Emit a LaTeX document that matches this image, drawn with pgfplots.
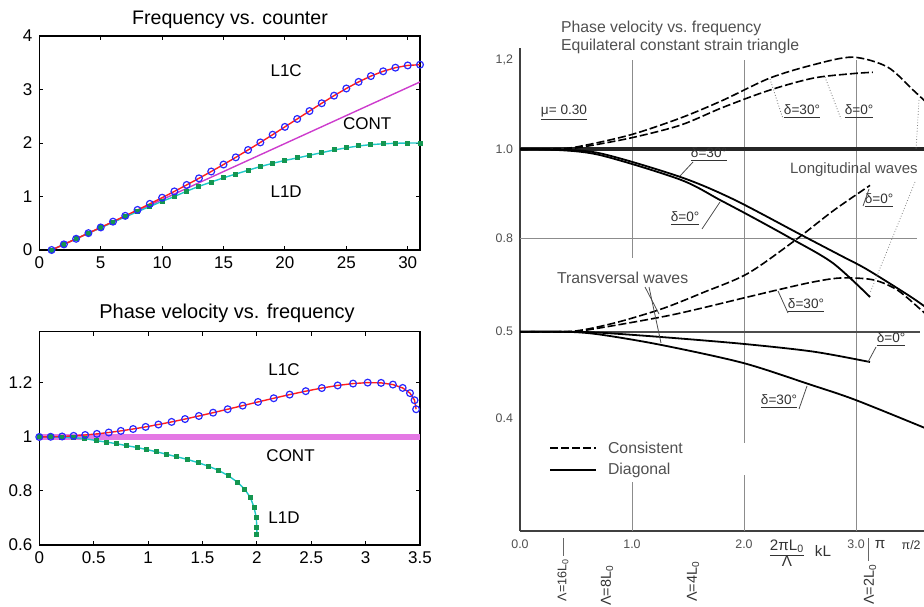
\documentclass[border=0pt]{standalone}
\usepackage{fontspec}
\setmainfont{Liberation Sans}
\usepackage{pgfplots}
\pgfplotsset{compat=1.18}

\definecolor{mblue}{RGB}{40,40,255}
\definecolor{mred}{RGB}{255,30,30}
\definecolor{mmag}{RGB}{205,60,205}
\definecolor{mmagl}{RGB}{228,120,228}
\definecolor{mgreen}{RGB}{20,150,80}
\definecolor{mcyan}{RGB}{30,200,200}
\definecolor{gtxt}{RGB}{80,80,80}
\definecolor{ggrid}{RGB}{140,140,140}

\newcommand\rs{\fontsize{6.8}{7.8}\selectfont}
\newcommand\rt{\fontsize{7.9}{9}\selectfont}

\begin{document}
\begin{tikzpicture}
\useasboundingbox (0,0) rectangle (462pt,303pt);
\clip (0,0) rectangle (462pt,303pt);

\pgfplotsset{
 matlab/.style={scale only axis, anchor=south west, width=190.35pt,
   axis line style={black, line width=0.6pt}, tick style={black, line width=0.5pt},
   major tick length=2pt, xtick pos=both, ytick pos=both,
   tick label style={font=\fontsize{8.5}{9}\selectfont},
   /pgf/number format/assume math mode=true},
 consist/.style={black, line width=0.8pt, dash pattern=on 4pt off 1.5pt, smooth, tension=0.5},
 diag/.style={black, line width=0.9pt, smooth, tension=0.5},
}

% ---------------- Top-left: Frequency vs. counter ----------------
\begin{axis}[matlab, at={(19.65pt,178pt)}, height=107pt,
  xmin=0, xmax=31, ymin=0, ymax=4, xtick={0,5,10,15,20,25,30}, ytick={0,1,2,3,4}]
\addplot[mmag, line width=0.7pt] coordinates {
 (1,0)(2,0.10472)(3,0.20944)(4,0.31416)(5,0.41888)(6,0.5236)(7,0.62832)(8,0.73304)(9,0.83776)(10,0.94248)
 (11,1.0472)(12,1.15192)(13,1.25664)(14,1.36136)(15,1.46608)(16,1.5708)(17,1.67552)(18,1.78024)(19,1.88496)(20,1.98968)
 (21,2.0944)(22,2.19911)(23,2.30383)(24,2.40855)(25,2.51327)(26,2.61799)(27,2.72271)(28,2.82743)(29,2.93215)(30,3.03687)(31,3.14159)};
\addplot[mcyan, line width=0.7pt, mark=square*, mark size=0.9pt, mark options={mgreen, solid}] coordinates {
 (1,0)(2,0.105)(3,0.21)(4,0.313)(5,0.416)(6,0.518)(7,0.618)(8,0.717)(9,0.813)(10,0.91)
 (11,1.0)(12,1.1)(13,1.19)(14,1.27)(15,1.35)(16,1.42)(17,1.49)(18,1.56)(19,1.62)(20,1.675)
 (21,1.72)(22,1.77)(23,1.82)(24,1.87)(25,1.91)(26,1.945)(27,1.97)(28,1.985)(29,1.995)(30,2.0)(31,2.0)};
\addplot[only marks, mark=o, mark size=1.7pt, mark options={mblue, line width=0.6pt}] coordinates {
 (1,0)(2,0.10479)(3,0.20981)(4,0.31544)(5,0.42194)(6,0.52959)(7,0.63869)(8,0.74955)(9,0.86242)(10,0.97762)
 (11,1.09545)(12,1.21614)(13,1.33997)(14,1.46714)(15,1.5978)(16,1.73205)(17,1.86984)(18,2.011)(19,2.15516)(20,2.30165)
 (21,2.44949)(22,2.5973)(23,2.74317)(24,2.88468)(25,3.01888)(26,3.14218)(27,3.2508)(28,3.34069)(29,3.40809)(30,3.44992)(31,3.4641)};
\addplot[mred, line width=0.7pt] coordinates {
 (1,0)(2,0.10479)(3,0.20981)(4,0.31544)(5,0.42194)(6,0.52959)(7,0.63869)(8,0.74955)(9,0.86242)(10,0.97762)
 (11,1.09545)(12,1.21614)(13,1.33997)(14,1.46714)(15,1.5978)(16,1.73205)(17,1.86984)(18,2.011)(19,2.15516)(20,2.30165)
 (21,2.44949)(22,2.5973)(23,2.74317)(24,2.88468)(25,3.01888)(26,3.14218)(27,3.2508)(28,3.34069)(29,3.40809)(30,3.44992)(31,3.4641)};
\node[font=\fontsize{8.5}{9}\selectfont] at (axis cs:20.1,3.36) {L1C};
\node[font=\fontsize{8.5}{9}\selectfont] at (axis cs:26.7,2.37) {CONT};
\node[font=\fontsize{8.5}{9}\selectfont] at (axis cs:20.1,1.1) {L1D};
\end{axis}
\node[font=\fontsize{9.8}{10}\selectfont] at (115pt,293pt) {Frequency vs. counter};

% ---------------- Bottom-left: Phase velocity vs. frequency ----------------
\begin{axis}[matlab, at={(19.65pt,30.5pt)}, height=106.7pt,
  xmin=0, xmax=3.5, ymin=0.6, ymax=1.39, xtick={0,0.5,1,1.5,2,2.5,3,3.5}, ytick={0.6,0.8,1,1.2}]
\addplot[mmagl, line width=2.6pt] coordinates {(0,1)(3.5,1)};
\addplot[mcyan, line width=0.7pt, mark=square*, mark size=0.9pt, mark options={mgreen, solid}] coordinates {
 (0,1)(0.1,1.0)(0.2,0.999)(0.31,0.997)(0.42,0.994)(0.53,0.986)(0.62,0.981)(0.71,0.975)(0.8,0.968)(0.9,0.961)
 (0.99,0.953)(1.08,0.945)(1.17,0.936)(1.26,0.927)(1.36,0.917)(1.46,0.905)(1.56,0.891)(1.65,0.876)(1.74,0.856)
 (1.82,0.833)(1.89,0.806)(1.94,0.776)(1.975,0.739)(1.995,0.70)(2.0,0.665)(2.0,0.640)};
\addplot[only marks, mark=o, mark size=1.7pt, mark options={mblue, line width=0.6pt}] coordinates {
 (0,1)(0.10479,1.00067)(0.20981,1.00177)(0.31544,1.00407)(0.42194,1.00731)(0.52959,1.01144)(0.63869,1.0165)(0.74955,1.02252)
 (0.86242,1.02944)(0.97762,1.03728)(1.09545,1.04608)(1.21614,1.05575)(1.33997,1.06631)(1.46714,1.0777)(1.5978,1.08985)
 (1.73205,1.10266)(1.86984,1.11598)(2.011,1.12962)(2.15516,1.14335)(2.30165,1.1568)(2.44949,1.16954)(2.5973,1.18107)
 (2.74317,1.1907)(2.88468,1.19768)(3.01888,1.20118)(3.14218,1.20023)(3.2508,1.19396)(3.34069,1.18153)(3.40809,1.16232)
 (3.44992,1.13601)(3.4641,1.10266)};
\addplot[mred, line width=0.7pt] coordinates {
 (0,1)(0.10479,1.00067)(0.20981,1.00177)(0.31544,1.00407)(0.42194,1.00731)(0.52959,1.01144)(0.63869,1.0165)(0.74955,1.02252)
 (0.86242,1.02944)(0.97762,1.03728)(1.09545,1.04608)(1.21614,1.05575)(1.33997,1.06631)(1.46714,1.0777)(1.5978,1.08985)
 (1.73205,1.10266)(1.86984,1.11598)(2.011,1.12962)(2.15516,1.14335)(2.30165,1.1568)(2.44949,1.16954)(2.5973,1.18107)
 (2.74317,1.1907)(2.88468,1.19768)(3.01888,1.20118)(3.14218,1.20023)(3.2508,1.19396)(3.34069,1.18153)(3.40809,1.16232)
 (3.44992,1.13601)(3.4641,1.10266)};
\node[font=\fontsize{8.5}{9}\selectfont] at (axis cs:2.25,1.249) {L1C};
\node[font=\fontsize{8.5}{9}\selectfont] at (axis cs:2.31,0.931) {CONT};
\node[font=\fontsize{8.5}{9}\selectfont] at (axis cs:2.25,0.70) {L1D};
\end{axis}
\node[font=\fontsize{10}{11}\selectfont] at (113.5pt,146.5pt) {Phase velocity vs. frequency};

% ---------------- Right: longitudinal part (upper scale) ----------------
\begin{axis}[at={(260pt,37.5pt)}, anchor=south west, scale only axis, width=202pt, height=241.5pt,
  xmin=0, xmax=3.607, ymin=0.1422, ymax=1.2276,
  axis x line=bottom, axis y line=left, axis line style={-, black!75, line width=1pt},
  xtick={0,1,2,3}, xticklabels={0.0,1.0,2.0,3.0}, ytick={0.8,1,1.2}, yticklabels={0.8,1.0,{1,2}},
  major tick length=0pt, tick label style={font=\fontsize{6.2}{7}\selectfont, text=gtxt},
  xticklabel style={yshift=-1pt}]
\draw[ggrid, line width=0.5pt] (axis cs:1,1.2) -- (axis cs:1,0.756);
\draw[ggrid, line width=0.5pt] (axis cs:1,0.2523) -- (axis cs:1,0.1422);
\draw[ggrid, line width=0.5pt] (axis cs:2,1.2) -- (axis cs:2,0.340);
\draw[ggrid, line width=0.5pt] (axis cs:2,0.268) -- (axis cs:2,0.1422);
\draw[ggrid, line width=0.5pt] (axis cs:3,1.2) -- (axis cs:3,0.1422);
\draw[ggrid, line width=0.5pt] (axis cs:0,0.8) -- (axis cs:3.545,0.8);
\draw[black!85, line width=2pt] (axis cs:0,1) -- (axis cs:3.607,1);
\addplot[consist] coordinates {(0,1)(0.3,1.001)(0.5,1.005)(0.98,1.032)(1.43,1.070)(1.81,1.110)(2.23,1.160)(2.62,1.190)(2.97,1.207)(3.28,1.185)(3.51,1.133)(3.65,1.100)};
\addplot[consist] coordinates {(0,1)(0.3,1.001)(0.5,1.003)(0.98,1.025)(1.43,1.054)(1.81,1.094)(2.23,1.133)(2.62,1.160)(2.97,1.170)(3.15,1.173)};
\addplot[diag] coordinates {(0,1)(0.3,0.999)(0.714,0.991)(1.429,0.938)(1.902,0.888)(2.5,0.809)(2.857,0.762)(3.098,0.730)(3.48,0.670)(3.65,0.640)};
\addplot[diag] coordinates {(0,1)(0.3,0.999)(0.714,0.987)(1.429,0.932)(1.786,0.886)(2.1,0.844)(2.438,0.797)(2.795,0.744)(3.125,0.668)};
\end{axis}

% ---------------- Right: transversal part (lower scale) ----------------
\begin{axis}[at={(260pt,37.5pt)}, anchor=south west, scale only axis, width=202pt, height=241.5pt,
  xmin=0, xmax=3.607, ymin=0.2699, ymax=0.8276,
  axis line style={draw=none}, xtick=\empty, ytick={0.4,0.5}, yticklabels={0.4,0.5},
  major tick length=0pt, tick label style={font=\fontsize{6.2}{7}\selectfont, text=gtxt}]
\draw[black!70, line width=1.2pt] (axis cs:0,0.5) -- (axis cs:3.57,0.5);
\addplot[consist] coordinates {(0,0.5)(0.4,0.5)(0.6,0.503)(0.9,0.512)(1.28,0.527)(1.63,0.545)(2.03,0.567)(2.44,0.604)(2.8,0.640)(3.125,0.669)};
\addplot[consist] coordinates {(0,0.5)(0.4,0.5)(0.6,0.502)(1.34,0.519)(2.03,0.540)(2.29,0.548)(2.6,0.557)(2.857,0.562)(3.15,0.560)(3.37,0.548)(3.6,0.523)(3.65,0.517)};
\addplot[diag] coordinates {(0,0.5)(0.4,0.5)(0.7,0.499)(1.25,0.494)(1.99,0.486)(2.62,0.477)(3.125,0.465)};
\addplot[diag] coordinates {(0,0.5)(0.4,0.5)(0.7,0.497)(1.25,0.485)(1.99,0.464)(2.59,0.439)(3.0,0.421)(3.65,0.387)};
\end{axis}

% ---------------- Right: annotations (pixel coordinates) ----------------
\begin{scope}[x=0.5pt, y=-0.5pt, shift={(0pt,303pt)}, gtxt]
\node[anchor=west, font=\rt] at (554,28) {Phase velocity vs.\ frequency};
\node[anchor=west, font=\rt] at (554,46) {Equilateral constant strain triangle};
\node[font=\rs, black!80] at (564,113) {\underline{μ= 0.30}};
% longitudinal labels
\node[font=\rs, black!80] at (709,155) {\underline{δ=30°}};
\draw[black!70, line width=0.4pt] (693,162) -- (680,176);
\node[font=\rs, black!80] at (685,219) {\underline{δ=0°}};
\draw[black!70, line width=0.4pt] (702,229) -- (720,202);
\node[font=\rs, black!80] at (802,112) {\underline{δ=30°}};
\draw[black!60, line width=0.4pt, densely dotted] (770,79) -- (783,119);
\node[font=\rs, black!80] at (859,112) {\underline{δ=0°}};
\draw[black!60, line width=0.4pt, densely dotted] (825,77) -- (841,119);
\node[anchor=west, font=\fontsize{7.5}{8.5}\selectfont] at (783,170) {Longitudinal waves};
\node[font=\rs, black!80] at (879,201) {\underline{δ=0°}};
\draw[black!70, line width=0.4pt] (863,206) -- (869,189);
\draw[black!50, line width=0.4pt, densely dotted] (915,182) -- (870,293);
\draw[black!50, line width=0.4pt, densely dotted] (919,100) -- (916,150);
% transversal labels
\node[anchor=west, font=\rt] at (550,278) {Transversal waves};
\draw[black!70, line width=0.4pt] (645,287) -- (659,314);
\draw[black!70, line width=0.4pt] (649,287) -- (661,343);
\node[font=\rs, black!80] at (806,306) {\underline{δ=30°}};
\draw[black!70, line width=0.4pt] (778,291) -- (788,313);
\node[font=\rs, black!80] at (891,340) {\underline{δ=0°}};
\draw[black!70, line width=0.4pt] (868,362) -- (876,347);
\node[font=\rs, black!80] at (779,402) {\underline{δ=30°}};
\draw[black!70, line width=0.4pt] (799,409) -- (807,386);
% legend
\draw[black, line width=0.8pt, dash pattern=on 4pt off 1.5pt] (550,448) -- (596,448);
\node[anchor=west, font=\rt] at (601,448) {Consistent};
\draw[black, line width=0.9pt] (550,470) -- (596,470);
\node[anchor=west, font=\rt] at (601,470) {Diagonal};
% x-axis extras
\draw[black!60, line width=0.5pt] (563,538) -- (563,556);
\draw[black!60, line width=0.5pt] (868,538) -- (868,561);
\node[rotate=90, anchor=east, font=\fontsize{6.3}{7}\selectfont, black!80, inner sep=1pt] at (563,556) {Λ=16L\textsubscript{0}};
\node[rotate=90, anchor=east, font=\fontsize{7.2}{8}\selectfont, black!80] at (607,558) {Λ=8L\textsubscript{0}};
\node[rotate=90, anchor=east, font=\fontsize{7.2}{8}\selectfont, black!80] at (693,554) {Λ=4L\textsubscript{0}};
\node[rotate=90, anchor=east, font=\fontsize{7.2}{8}\selectfont, black!80] at (870,557) {Λ=2L\textsubscript{0}};
\node[font=\fontsize{7.6}{8}\selectfont, black!80, align=center, inner sep=0pt] at (787,553) {\underline{2πL\textsubscript{0}}\\[-1pt]Λ};
\node[font=\fontsize{7.6}{8}\selectfont, black!80] at (823,551) {kL};
\node[font=\fontsize{7.6}{8}\selectfont, black!80] at (880,545) {π};
\node[anchor=east, font=\fontsize{6.2}{7}\selectfont, black!80, inner sep=1pt] at (923,545) {π/2};
\end{scope}
\end{tikzpicture}
\end{document}
